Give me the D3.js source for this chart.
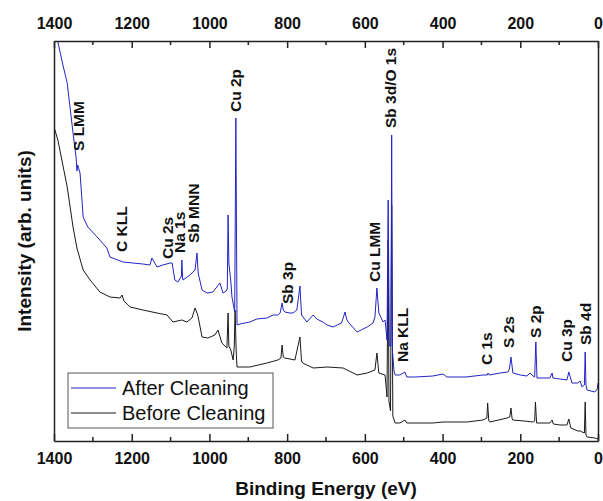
<!DOCTYPE html>
<meta charset="utf-8">
<style>
body { margin: 0; background: #fff; }
text { font-family: "Liberation Sans", Arial, sans-serif; fill: #111; }
.axis path, .axis line { stroke: #222; stroke-width: 1.5; }
.axis text { font-size: 16px; font-weight: bold; }
.peak { font-size: 15.5px; font-weight: bold; }
.title { font-size: 19px; font-weight: bold; }
.spectrum { fill: none; stroke-width: 1; stroke-linejoin: round; }
</style>
<body>
<script src="https://d3js.org/d3.v7.min.js"></script>
<script>

// binding energy (eV), intensity (arb. units)
var afterCleaning = [
  [1400, 417], [1390, 399], [1377, 376], [1366, 358], [1351, 308], [1343, 283],
  [1341, 270], [1339, 276], [1333, 268], [1328, 241], [1325, 224], [1313, 214],
  [1289, 204], [1264, 193], [1256, 184], [1222, 179], [1197, 178], [1171, 177],
  [1153, 176], [1148, 183], [1135, 174], [1120, 176], [1101, 178], [1096, 178],
  [1089, 161], [1081, 159], [1072, 165], [1071, 181], [1069, 163], [1068, 161],
  [1050, 166], [1037, 171], [1032, 188], [1029, 168], [1019, 151], [1006, 148],
  [991, 149], [973, 158], [965, 148], [957, 150], [954, 152], [952, 226],
  [950, 178], [945, 160], [942, 144], [935, 129], [932, 323], [929, 116],
  [921, 117], [896, 119], [878, 122], [852, 123], [836, 126], [824, 126],
  [818, 128], [813, 138], [810, 131], [806, 129], [793, 128], [785, 128],
  [775, 131], [767, 155], [763, 126], [749, 119], [733, 126], [724, 122],
  [708, 119], [697, 116], [682, 114], [660, 118], [651, 129], [647, 122],
  [643, 119], [620, 109], [594, 114], [579, 118], [574, 124], [569, 153],
  [564, 128], [553, 119], [548, 121], [543, 101], [540, 241], [537, 95],
  [533, 95], [531, 306], [529, 90], [525, 70], [522, 66], [510, 66],
  [497, 69], [492, 64], [470, 64], [425, 65], [399, 67], [389, 64],
  [340, 64], [296, 66], [285, 66], [283, 68], [280, 66], [252, 68],
  [232, 69], [228, 72], [224, 84], [219, 68], [200, 66], [183, 65],
  [175, 68], [167, 65], [163, 64], [160, 99], [157, 63], [124, 63],
  [118, 68], [116, 63], [98, 62], [80, 61], [75, 69], [67, 58],
  [52, 58], [46, 60], [41, 54], [35, 56], [33, 89], [31, 56],
  [28, 51], [8, 49], [2, 52], [0, 58]
];

var beforeCleaning = [
  [1400, 314], [1390, 301], [1366, 254], [1351, 214], [1341, 193], [1325, 171],
  [1307, 161], [1282, 149], [1256, 144], [1230, 143], [1225, 146], [1220, 140],
  [1204, 134], [1171, 131], [1135, 128], [1109, 126], [1094, 119], [1071, 121],
  [1058, 119], [1045, 123], [1037, 133], [1032, 128], [1029, 124], [1019, 104],
  [1004, 103], [986, 106], [978, 111], [968, 98], [955, 93], [952, 128],
  [950, 95], [945, 91], [939, 81], [936, 95], [934, 131], [931, 88],
  [929, 74], [896, 74], [852, 78], [824, 81], [816, 83], [813, 96],
  [810, 84], [806, 83], [780, 81], [767, 104], [763, 80], [760, 78],
  [733, 73], [697, 74], [656, 73], [620, 66], [594, 68], [574, 71],
  [569, 88], [564, 68], [548, 66], [543, 44], [540, 201], [538, 40],
  [534, 30], [531, 236], [528, 25], [522, 18], [510, 18], [497, 21],
  [492, 18], [425, 18], [399, 19], [337, 19], [296, 21], [286, 23],
  [284, 38], [281, 20], [278, 19], [234, 23], [227, 24], [224, 33],
  [221, 22], [219, 21], [190, 20], [167, 19], [163, 20], [161, 39],
  [158, 18], [124, 18], [118, 21], [115, 17], [98, 16], [80, 16],
  [75, 22], [70, 13], [52, 10], [45, 10], [41, 9], [35, 8],
  [33, 39], [31, 6], [28, 4], [8, 3], [0, 2]
];

// peak assignments: label text, energy, intensity where the label starts
var peakNames = ["S LMM", "C KLL", "Cu 2s", "Na 1s", "Sb MNN", "Cu 2p", "Sb 3p", "Cu LMM",
                 "Sb 3d/O 1s", "Na KLL", "C 1s", "S 2s", "S 2p", "Cu 3p", "Sb 4d"];
var peakEnergies = [1338, 1225, 1109, 1076, 1042, 932, 798, 576, 533, 502, 288, 229, 160, 80, 33];
var peakLevels = [290, 189, 182, 188, 198, 329, 137, 159, 313, 79, 76, 93, 103, 79, 96];

var seriesNames = ["After Cleaning", "Before Cleaning"];
var seriesColors = ["#2323c8", "#1a1a1a"];
var xTicks = [1400, 1200, 1000, 800, 600, 400, 200, 0];

var W = 603, H = 501;
var margin = {top: 41, right: 5, bottom: 60, left: 54};
var width = W - margin.left - margin.right,
    height = H - margin.top - margin.bottom;

var svg = d3.select("body").append("svg")
    .attr("width", W)
    .attr("height", H);

var g = svg.append("g")
    .attr("transform", "translate(" + margin.left + "," + margin.top + ")");

var x = d3.scaleLinear().domain([1400, 0]).range([0, width]);
var y = d3.scaleLinear().domain([0, 400]).range([height, 0]);

g.append("clipPath").attr("id", "clip")
  .append("rect").attr("width", width).attr("height", height);

var line = d3.line()
    .x(function(d) { return x(d[0]); })
    .y(function(d) { return y(d[1]); });

// black first, blue on top
g.append("path")
    .datum(beforeCleaning)
    .attr("class", "spectrum")
    .attr("clip-path", "url(#clip)")
    .attr("stroke", seriesColors[1])
    .attr("d", line);

g.append("path")
    .datum(afterCleaning)
    .attr("class", "spectrum")
    .attr("clip-path", "url(#clip)")
    .attr("stroke", seriesColors[0])
    .attr("d", line);

// axes: ticks point inward, minor every 100 eV
var minor = d3.range(1300, 0, -200);
var fmt = d3.format("d");

var bottomAxis = g.append("g").attr("class", "axis")
    .attr("transform", "translate(0," + height + ")")
    .call(d3.axisBottom(x).tickValues(xTicks).tickFormat(fmt).tickSizeInner(-7).tickSizeOuter(0).tickPadding(12));
bottomAxis.selectAll(".minor").data(minor).enter().append("line")
    .attr("x1", function(d) { return x(d); }).attr("x2", function(d) { return x(d); })
    .attr("y1", 0).attr("y2", -4);

var topAxis = g.append("g").attr("class", "axis")
    .call(d3.axisTop(x).tickValues(xTicks).tickFormat(fmt).tickSizeInner(-7).tickSizeOuter(0).tickPadding(12));
topAxis.selectAll(".minor").data(minor).enter().append("line")
    .attr("x1", function(d) { return x(d); }).attr("x2", function(d) { return x(d); })
    .attr("y1", 0).attr("y2", 4);

g.append("g").attr("class", "axis")
    .call(d3.axisLeft(y).tickValues([]).tickSizeOuter(0));
g.append("g").attr("class", "axis")
    .attr("transform", "translate(" + width + ",0)")
    .call(d3.axisRight(y).tickValues([]).tickSizeOuter(0));

g.selectAll(".axis text").attr("fill", "#111");

// peak labels, rotated
g.selectAll(".peak").data(peakNames).enter().append("text")
    .attr("class", "peak")
    .attr("transform", function(d, i) {
      return "translate(" + x(peakEnergies[i]) + "," + y(peakLevels[i]) + ") rotate(-90)";
    })
    .attr("dy", "0.35em")
    .text(function(d) { return d; });

// axis titles
svg.append("text").attr("class", "title")
    .attr("x", margin.left + width / 2)
    .attr("y", 495)
    .attr("text-anchor", "middle")
    .text("Binding Energy (eV)");

svg.append("text").attr("class", "title")
    .attr("transform", "translate(31," + (margin.top + height / 2) + ") rotate(-90)")
    .attr("text-anchor", "middle")
    .text("Intensity (arb. units)");

// legend
var legend = g.append("g").attr("transform", "translate(14,332)");
legend.append("rect")
    .attr("width", 205).attr("height", 55)
    .attr("fill", "#fff").attr("stroke", "#555").attr("stroke-width", 1);
seriesNames.forEach(function(name, i) {
  var row = legend.append("g").attr("transform", "translate(0," + (15 + i * 25) + ")");
  row.append("line").attr("x1", 3).attr("x2", 48)
      .attr("stroke", seriesColors[i]).attr("stroke-width", 1);
  row.append("text").attr("x", 54).attr("dy", "0.35em")
      .style("font-size", "20px").attr("fill", "#222")
      .text(name);
});

</script>
</body>
